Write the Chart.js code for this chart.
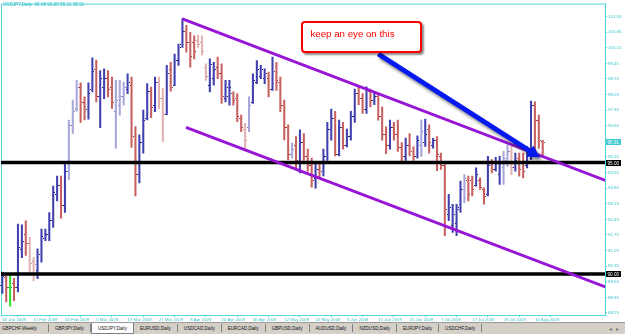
<!DOCTYPE html>
<html><head><meta charset="utf-8">
<script src="https://cdn.jsdelivr.net/npm/chart.js@4/dist/chart.umd.min.js"></script>
<style>
html,body{margin:0;padding:0;background:#fff;overflow:hidden;width:625px;height:334px}
#wrap{position:relative;width:625px;height:322px}
#c{display:block}
#hdr{position:absolute;left:3px;top:2px;font:4.6px "Liberation Sans",Arial,sans-serif;color:#2cbcc4;white-space:pre}
#callout{position:absolute;box-sizing:border-box;border:2px solid #ff0000;border-radius:4px;background:#fff;box-shadow:2px 2px 2px rgba(0,0,0,0.45);color:#ff0000;font:9.7px "Liberation Sans",Arial,sans-serif;padding:5px 0 0 7px;white-space:nowrap}
#tabs{position:absolute;left:0;top:322px;width:625px;height:12px;background:#d4d0c8;border-top:1px solid #9a9a9a;box-sizing:border-box;display:flex;align-items:stretch;font:4.6px "Liberation Sans",Arial,sans-serif;color:#111}
#tabs .t{padding:0 6px;border-right:1px solid #808080;display:flex;align-items:center;white-space:nowrap;margin:1px 0 2px 0}
#tabs .t:first-child{padding-left:2px;padding-right:11px}
#tabs .t.on{background:#fff;border:1px solid #808080;border-top:none;margin:0 0 0 0}
#tabs .arr{position:absolute;right:2px;top:2px;color:#777;font-size:6px;letter-spacing:4px}
</style></head>
<body>
<div id="wrap"><canvas id="c" width="625" height="322"></canvas><div id="hdr"></div><div id="callout"></div></div>
<div id="tabs"></div>
<script>
// ---- data ----
const tickLabels = ['30 Jan 2009','11 Feb 2009','23 Feb 2009','5 Mar 2009','17 Mar 2009','27 Mar 2009','8 Apr 2009','20 Apr 2009','30 Apr 2009','12 May 2009','22 May 2009','3 Jun 2009','15 Jun 2009','25 Jun 2009','7 Jul 2009','17 Jul 2009','29 Jul 2009','10 Aug 2009'];
const tickBars = [0,8,16,24,32,40,48,56,64,72,80,88,96,104,112,120,128,136];
const yTicks = [101.55,100.85,100.15,99.45,98.75,98.05,97.35,96.65,95.95,95.25,94.55,93.85,93.15,92.45,91.75,91.05,90.35,89.65,88.95,88.25];

const opens = [89.5,89.85,89.4,89.6,89.4,91.1,91.8,91.4,90.6,90.2,90.9,91.6,91.8,92.4,93.6,94.0,93.1,94.6,96.7,97.4,
98.4,97.7,97.4,98.3,99.2,98.0,98.4,98.8,98.4,97.3,97.6,98.0,98.3,98.5,96.2,94.5,95.9,97.0,98.2,97.6,
98.6,97.9,97.2,99.2,98.5,99.6,100.3,100.9,100.4,100.4,100.5,100.4,99.3,98.5,98.8,99.3,99.0,97.9,98.0,98.1,
97.9,97.0,96.5,96.6,97.7,98.6,98.9,98.8,98.8,98.3,99.1,98.6,97.6,96.6,95.4,95.8,95.0,95.9,95.3,94.9,
94.3,94.7,94.6,95.3,96.5,97.0,95.4,96.6,95.8,96.2,97.1,98.1,97.9,97.4,98.2,97.8,98.0,97.1,96.3,95.8,
96.6,96.3,95.7,95.3,95.8,95.5,95.3,95.8,95.9,96.5,95.8,96.0,95.3,94.9,92.7,92.2,92.3,93.0,93.8,94.2,
94.2,94.0,94.2,93.8,93.6,95.0,94.7,94.5,94.8,95.1,95.5,94.8,95.2,95.0,94.9,95.4,97.6,96.9,95.98];
const highs = [90.09,90.01,89.94,89.8,92.24,92.21,92.39,91.64,90.75,91.13,92.02,92.02,92.76,93.94,94.39,94.39,94.98,96.91,97.8,98.69,
98.58,97.95,98.58,99.7,99.6,99.13,99.2,99.13,98.84,98.69,98.69,98.61,98.98,98.84,96.61,96.24,97.35,98.54,98.39,98.84,
98.84,98.32,99.36,99.5,99.87,100.32,101.46,101.16,100.84,100.69,100.72,100.69,99.43,99.65,99.5,99.73,99.43,98.69,98.69,98.17,
98.09,97.13,96.76,97.95,98.98,99.58,99.36,99.21,99.06,99.73,99.5,98.84,97.8,96.69,95.87,96.17,96.47,96.3,95.6,95.2,
95.0,95.0,95.6,96.8,97.4,97.3,96.9,96.8,96.5,97.3,98.3,98.45,98.1,98.4,98.3,98.2,98.1,97.5,96.6,96.9,
96.8,96.9,95.9,96.1,96.3,95.7,96.2,96.91,96.95,96.69,96.09,96.17,95.42,94.91,93.57,93.13,93.13,94.17,94.46,94.39,
94.39,94.76,94.31,93.87,95.28,95.13,95.23,95.28,95.5,95.8,95.72,95.42,95.42,95.42,95.72,97.76,97.72,97.13,96.00];
const lows = [89.13,88.75,88.56,88.8,89.2,90.73,90.83,90.09,89.69,89.79,90.53,91.5,91.5,92.09,93.28,92.51,92.76,94.24,96.31,97.31,
96.8,96.91,96.95,98.17,97.72,96.57,97.87,97.95,97.43,95.65,97.13,97.58,98.09,95.68,93.5,94.09,95.42,96.91,97.01,97.28,
97.43,95.95,97.15,98.2,98.45,99.36,100.17,99.95,99.28,99.65,100.17,99.83,98.69,98.17,98.47,98.76,97.65,97.72,97.58,97.58,
96.83,96.39,95.65,96.39,97.65,98.54,98.76,98.54,97.95,98.24,98.24,97.28,96.02,95.13,95.2,94.76,94.54,95.1,94.6,93.9,
93.85,94.3,94.4,95.1,96.0,95.3,95.3,95.6,95.7,96.0,96.8,97.6,97.2,97.2,97.5,97.6,96.9,96.0,95.4,95.6,
96.0,95.5,95.0,95.1,95.3,95.1,95.2,95.28,95.72,95.42,95.65,94.64,94.69,91.72,92.39,91.87,91.72,92.76,93.2,93.28,
93.5,93.94,93.8,93.13,93.5,94.53,94.61,94.02,94.02,94.83,94.46,94.61,94.39,94.31,94.76,95.13,95.3,95.65,95.31];
const closes = [89.9,89.4,89.4,89.4,91.2,91.5,91.4,90.5,90.45,90.9,91.7,91.8,92.4,93.7,94.0,93.1,94.6,96.7,97.3,98.4,
97.7,97.4,98.1,99.1,98.0,98.8,98.8,98.3,97.7,97.8,98.0,98.4,98.6,96.2,94.5,95.9,96.9,98.2,97.5,98.6,
97.9,97.2,99.0,98.4,99.6,100.2,100.9,100.4,99.8,100.0,100.3,100.0,98.9,99.4,99.2,99.0,98.0,98.4,98.4,97.8,
97.1,96.6,96.0,97.6,98.7,99.2,99.2,99.0,98.3,99.1,98.7,97.6,96.6,95.4,95.6,95.1,95.9,95.3,94.9,94.2,
94.7,94.6,95.3,96.5,97.0,95.4,96.6,95.8,96.2,97.1,98.1,97.9,97.4,98.2,97.8,98.0,97.1,96.3,95.8,96.6,
96.3,95.7,95.3,95.8,95.5,95.3,96.0,96.4,96.3,95.9,96.0,95.4,94.9,92.9,93.0,92.7,92.9,93.8,94.3,93.6,
93.8,94.5,93.9,93.5,94.9,94.7,95.0,95.0,95.2,95.5,94.8,95.1,94.7,94.6,95.4,97.6,96.9,96.0,95.91];
const fadedBars = [7,8,17,18,19,29,30,31,40,41,50,51,52,62,63,74,107,118,128,129,130];

const levels = [95.00, 90.00];
const channelUpper = [[46, 101.45], [154, 94.2]];
const channelLower = [[46.9, 96.58], [154, 89.42]];
const arrowFrom = [96.0, 99.87];
const arrowTo = [137.3, 95.23];
const calloutAnchor = [76.4, 101.33];
const calloutText = 'keep an eye on this';
const symbol = 'USDJPY,Daily';
const tabNames = ['GBPCHF,Weekly','GBPJPY,Daily','USDJPY,Daily','EURUSD,Daily','USDCAD,Daily','EURCAD,Daily','GBPUSD,Daily','AUDUSD,Daily','NZDUSD,Daily','EURJPY,Daily','USDCHF,Daily'];
// ---- end data ----

const CYAN_LINE = '#52d6da', CYAN_TEXT = '#38c4ca';
const faded = new Set(fadedBars);
function barColor(i){
  const up = closes[i] > opens[i], dn = closes[i] < opens[i];
  if (!up && !dn) return '#30e030';
  if (faded.has(i)) return up ? '#a6a6da' : '#e2b2b2';
  return up ? '#4040b0' : '#c86060';
}
function tickColor(i){
  const up = closes[i] > opens[i], dn = closes[i] < opens[i];
  if (!up && !dn) return '#20a020';
  if (faded.has(i)) return up ? '#8080c8' : '#c89090';
  return up ? '#20207a' : '#a03a3a';
}

const barData = opens.map((o,i)=>({x:i, y:[lows[i], highs[i]]}));
const ptLine = (pts)=>pts.map(p=>({x:p[0], y:p[1]}));

const ohlcTicks = {
  id:'ohlcTicks',
  afterDatasetDraw(chart, args){
    if (args.index !== 0) return;
    const ctx = chart.ctx, ys = chart.scales.y;
    ctx.save();
    args.meta.data.forEach((el,i)=>{
      ctx.fillStyle = tickColor(i);
      const x = Math.round(el.x);
      ctx.fillRect(x-2, Math.round(ys.getPixelForValue(opens[i])), 1, 1);
      ctx.fillRect(x+1, Math.round(ys.getPixelForValue(closes[i])), 1, 1);
    });
    ctx.restore();
  }
};

const frame = {
  id:'frame',
  beforeDatasetsDraw(chart){
    const {ctx, chartArea:a} = chart;
    ctx.save();
    ctx.strokeStyle = CYAN_LINE; ctx.lineWidth = 1;
    ctx.beginPath();
    ctx.moveTo(a.left+0.5, a.bottom); ctx.lineTo(a.left+0.5, a.top+0.5); ctx.lineTo(a.right, a.top+0.5);
    ctx.stroke();
    ctx.restore();
  },
  afterDraw(chart){
    const {ctx, chartArea:a} = chart;
    const xs = chart.scales.x, ys = chart.scales.y;
    const p0 = {x: xs.getPixelForValue(arrowFrom[0]), y: ys.getPixelForValue(arrowFrom[1])};
    const p1 = {x: xs.getPixelForValue(arrowTo[0]), y: ys.getPixelForValue(arrowTo[1])};
    const ang = Math.atan2(p1.y-p0.y, p1.x-p0.x);
    const c = Math.cos(ang), s = Math.sin(ang);
    const hl = 12, hw = 6.5;
    const b = {x: p1.x - hl*c, y: p1.y - hl*s};
    ctx.save();
    ctx.shadowColor = 'rgba(0,0,0,0.45)'; ctx.shadowBlur = 3; ctx.shadowOffsetX = 2; ctx.shadowOffsetY = 3;
    ctx.strokeStyle = '#0418f0'; ctx.lineWidth = 5; ctx.lineCap = 'butt';
    ctx.beginPath(); ctx.moveTo(p0.x, p0.y); ctx.lineTo(b.x+1*c, b.y+1*s); ctx.stroke();
    ctx.fillStyle = '#0418f0';
    ctx.beginPath(); ctx.moveTo(p1.x, p1.y);
    ctx.lineTo(b.x - hw*s, b.y + hw*c); ctx.lineTo(b.x + hw*s, b.y - hw*c); ctx.closePath(); ctx.fill();
    ctx.restore();
    ctx.save();
    ctx.font = '4.6px "Liberation Sans", Arial, sans-serif';
    ctx.textBaseline = 'middle'; ctx.textAlign = 'left';
    const boxes = [[closes[closes.length-1], '#3ec8d2'], [levels[0], '#000'], [levels[1], '#000']];
    boxes.forEach(([v,col])=>{
      const y = Math.round(ys.getPixelForValue(v));
      ctx.fillStyle = col; ctx.fillRect(a.right+1, y-3, 15, 6);
      ctx.fillStyle = '#fff'; ctx.fillText(v.toFixed(2), a.right+2.5, y+0.3);
    });
    ctx.restore();
  }
};

const lineDs = (pts, color, w)=>({type:'line', data: ptLine(pts), borderColor: color, borderWidth: w, pointRadius: 0, fill:false, order:1, tension:0, clip:true});

const chart = new Chart(document.getElementById('c'), {
  type:'bar',
  data:{ datasets:[
    {type:'bar', data: barData, backgroundColor:(ctx)=>barColor(ctx.dataIndex), borderWidth:0, barThickness:1.4, order:2, grouped:false},
    lineDs(channelUpper, '#9716d6', 3),
    lineDs(channelLower, '#9716d6', 3),
    lineDs([[-1, levels[0]], [160, levels[0]]], '#000', 3.6),
    lineDs([[-1, levels[1]], [160, levels[1]]], '#000', 3.6)
  ]},
  options:{
    responsive:false, animation:false, devicePixelRatio:1,
    layout:{padding:{left:1, top:1, right:0, bottom:0}},
    plugins:{legend:{display:false}, tooltip:{enabled:false}},
    scales:{
      x:{type:'linear', min:-0.33, max:153.9, offset:false,
        afterBuildTicks:(s)=>{ s.ticks = tickBars.map(v=>({value:v})); },
        afterFit:(s)=>{ s.height = 7; },
        ticks:{autoSkip:false, maxRotation:0, align:'start', padding:0, color:CYAN_TEXT,
          font:{size:4.3, family:'"Liberation Sans", Arial, sans-serif'},
          callback:(v)=>{ const k = tickBars.indexOf(v); return k>=0 ? tickLabels[k] : ''; }},
        grid:{drawOnChartArea:false, drawTicks:true, tickLength:2, color:CYAN_LINE},
        border:{color:CYAN_LINE, width:1}
      },
      y:{type:'linear', position:'right', min:88.16, max:102.13,
        afterBuildTicks:(s)=>{ s.ticks = yTicks.map(v=>({value:v})); },
        afterFit:(s)=>{ s.width = 20; },
        ticks:{padding:1, color:CYAN_TEXT, font:{size:4.4, family:'"Liberation Sans", Arial, sans-serif'},
          callback:(v)=>Number(v).toFixed(2)},
        grid:{drawOnChartArea:false, drawTicks:true, tickLength:2, color:CYAN_LINE},
        border:{color:CYAN_LINE, width:1}
      }
    }
  },
  plugins:[ohlcTicks, frame]
});

const n = closes.length-1;
document.getElementById('hdr').textContent = symbol + '  ' + [opens[n],highs[n],lows[n],closes[n]].map(v=>v.toFixed(2)).join(' ');
const co = document.getElementById('callout');
co.textContent = calloutText;
co.style.left = chart.scales.x.getPixelForValue(calloutAnchor[0]) + 'px';
co.style.top = chart.scales.y.getPixelForValue(calloutAnchor[1]) + 'px';
co.style.width = '121px'; co.style.height = '32px';
const tabs = document.getElementById('tabs');
tabNames.forEach(t=>{ const d = document.createElement('div'); d.className = 't' + (t===symbol?' on':''); d.textContent = t; tabs.appendChild(d); });
const arr = document.createElement('div'); arr.className='arr'; arr.textContent='◂▸'; tabs.appendChild(arr);
</script>
</body></html>
